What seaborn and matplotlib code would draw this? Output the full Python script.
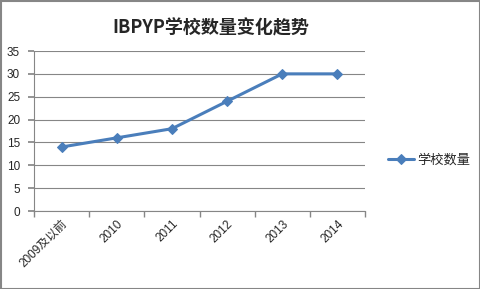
import matplotlib
matplotlib.use("Agg")
import matplotlib.pyplot as plt
import seaborn as sns
import pandas as pd
import numpy as np

categories = ["2009及以前", "2010", "2011", "2012", "2013", "2014"]
values = [14, 16, 18, 24, 30, 30]
series_name = "学校数量"
title = "IBPYP学校数量变化趋势"
yticks = [0, 5, 10, 15, 20, 25, 30, 35]

sns.set_theme(style="white")
plt.rcParams['font.family'] = ['Noto Sans CJK SC', 'DejaVu Sans']

df = pd.DataFrame({"cat": categories, "val": values, "series": series_name})
df["x"] = np.arange(len(categories))

fig = plt.figure(figsize=(4.8, 2.89), dpi=100)
ax = fig.add_axes([34/480, 1-211/289, (365-34)/480, (211-51)/289])

line_color = "#4A7EBB"
sns.lineplot(data=df, x="x", y="val", hue="series", palette=[line_color],
             marker="D", markersize=5, markeredgecolor=line_color,
             linewidth=2.2, ax=ax, legend=True)

ax.set_xlim(-0.5, len(categories) - 0.5)
ax.set_ylim(0, 35)
ax.set_yticks(yticks)
ax.set_yticklabels([str(t) for t in yticks], fontsize=8.5, family=['Liberation Sans', 'DejaVu Sans'])
ax.set_xticks(np.arange(len(categories)))
ax.set_xticklabels(categories, rotation=45, ha="right", rotation_mode="anchor", fontsize=8.5,
                   family=['Liberation Sans', 'Noto Sans CJK SC'])
ax.set_xticks(np.arange(len(categories) + 1) - 0.5, minor=True)
ax.tick_params(axis="x", which="major", length=0, pad=5)
ax.tick_params(axis="x", which="minor", length=4, color="#868686", direction="out", bottom=True)
ax.tick_params(axis="y", length=4, color="#868686", direction="out", left=True, pad=6)
ax.set_xlabel("")
ax.set_ylabel("")

ax.yaxis.grid(True, color="#868686", linewidth=0.8)
ax.set_axisbelow(True)
for s in ["top", "right"]:
    ax.spines[s].set_visible(False)
for s in ["left", "bottom"]:
    ax.spines[s].set_color("#868686")
    ax.spines[s].set_linewidth(0.8)

handles, labels = ax.get_legend_handles_labels()
ax.legend_.remove()
fig.legend(handles, labels, loc="center left", bbox_to_anchor=(376/480, 1-160/289),
           frameon=False, fontsize=9.5, handlelength=2.0, handletextpad=0.2)

fig.text(211/480, 1-28/289, title, ha="center", va="center", fontsize=13, fontweight="bold")

fig.patches.append(matplotlib.patches.Rectangle((0.5/480, 0.5/289), 1-1/480, 1-1/289,
                   transform=fig.transFigure, fill=False, edgecolor="#868686", linewidth=1.5))

fig.savefig("out.png", dpi=100)
